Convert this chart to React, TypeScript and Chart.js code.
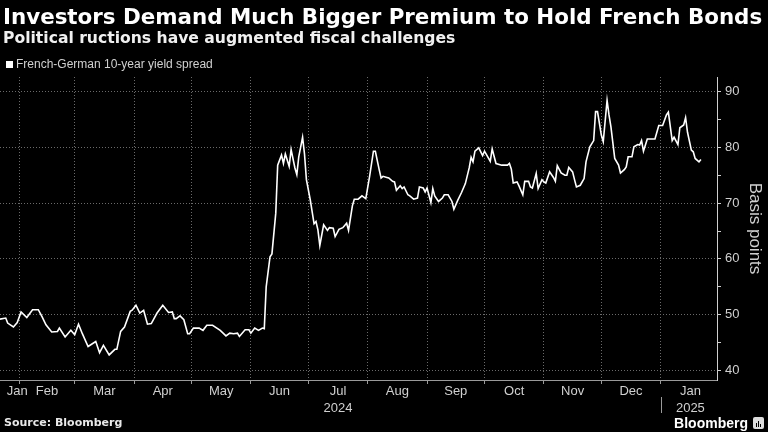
import React, { useEffect, useRef } from "react";
import { Chart, registerables } from "chart.js";

Chart.register(...registerables);

// ---- data ----
const dates: string[] = [
  "2024-01-22","2024-01-25","2024-01-26","2024-01-29","2024-01-31","2024-02-02","2024-02-05","2024-02-08","2024-02-11","2024-02-13",
  "2024-02-15","2024-02-18","2024-02-21","2024-02-22","2024-02-25","2024-02-28","2024-03-01","2024-03-03","2024-03-05","2024-03-08",
  "2024-03-12","2024-03-14","2024-03-16","2024-03-19","2024-03-22","2024-03-23","2024-03-25","2024-03-27","2024-03-30","2024-03-31",
  "2024-04-02","2024-04-04","2024-04-06","2024-04-08","2024-04-10","2024-04-13","2024-04-16","2024-04-19","2024-04-21","2024-04-22",
  "2024-04-23","2024-04-25","2024-04-27","2024-04-29","2024-04-30","2024-05-02","2024-05-05","2024-05-07","2024-05-09","2024-05-12",
  "2024-05-16","2024-05-19","2024-05-21","2024-05-23","2024-05-25","2024-05-26","2024-05-29","2024-05-31","2024-06-01","2024-06-03",
  "2024-06-05","2024-06-07","2024-06-08","2024-06-09","2024-06-11","2024-06-12","2024-06-14","2024-06-15","2024-06-17","2024-06-18",
  "2024-06-19","2024-06-21","2024-06-22","2024-06-24","2024-06-25","2024-06-26","2024-06-28","2024-06-29","2024-06-30","2024-07-02",
  "2024-07-04","2024-07-05","2024-07-06","2024-07-07","2024-07-09","2024-07-11","2024-07-12","2024-07-14","2024-07-15","2024-07-17",
  "2024-07-19","2024-07-21","2024-07-22","2024-07-24","2024-07-25","2024-07-27","2024-07-29","2024-07-31","2024-08-02","2024-08-04",
  "2024-08-05","2024-08-07","2024-08-08","2024-08-09","2024-08-11","2024-08-12","2024-08-14","2024-08-15","2024-08-16","2024-08-18",
  "2024-08-19","2024-08-20","2024-08-22","2024-08-23","2024-08-25","2024-08-27","2024-08-28","2024-08-30","2024-08-31","2024-09-01",
  "2024-09-03","2024-09-04","2024-09-05","2024-09-07","2024-09-09","2024-09-10","2024-09-12","2024-09-14","2024-09-15","2024-09-17",
  "2024-09-19","2024-09-21","2024-09-23","2024-09-24","2024-09-25","2024-09-26","2024-09-28","2024-09-30","2024-10-01","2024-10-04",
  "2024-10-05","2024-10-07","2024-10-10","2024-10-13","2024-10-14","2024-10-15","2024-10-16","2024-10-18","2024-10-19","2024-10-21",
  "2024-10-22","2024-10-24","2024-10-25","2024-10-26","2024-10-28","2024-10-29","2024-10-31","2024-11-01","2024-11-02","2024-11-04",
  "2024-11-06","2024-11-07","2024-11-08","2024-11-10","2024-11-12","2024-11-13","2024-11-14","2024-11-16","2024-11-17","2024-11-18",
  "2024-11-20","2024-11-22","2024-11-23","2024-11-25","2024-11-27","2024-11-28","2024-11-29","2024-12-01","2024-12-02","2024-12-04",
  "2024-12-05","2024-12-06","2024-12-08","2024-12-10","2024-12-11","2024-12-13","2024-12-14","2024-12-15","2024-12-17","2024-12-18",
  "2024-12-20","2024-12-21","2024-12-22","2024-12-23","2024-12-25","2024-12-27","2024-12-29","2024-12-31","2025-01-02","2025-01-04",
  "2025-01-05","2025-01-07","2025-01-08","2025-01-10","2025-01-11","2025-01-13","2025-01-14","2025-01-15","2025-01-17","2025-01-18",
  "2025-01-19","2025-01-21","2025-01-22",
];

const spread: number[] = [
  49.2,49.4,48.5,47.8,48.6,50.5,49.5,50.9,50.9,49.6,
  48.2,46.9,47.0,47.6,46.0,47.2,46.4,48.3,46.6,44.3,
  45.2,43.2,44.5,42.8,43.8,43.8,47.0,47.8,50.6,50.8,
  51.7,50.3,50.8,48.3,48.4,50.3,51.7,50.4,50.5,49.3,
  49.3,49.8,49.1,46.6,46.6,47.6,47.6,47.2,48.1,48.1,
  47.2,46.2,46.7,46.6,46.7,46.1,47.3,47.3,46.7,47.6,
  47.2,47.6,47.5,55.0,60.4,60.9,68.2,76.8,78.6,77.1,
  78.8,76.6,79.6,76.3,75.1,78.3,81.8,78.8,74.2,70.6,
  66.3,66.7,65.2,62.4,66.1,65.1,65.6,65.5,64.0,65.3,
  65.6,66.4,65.1,69.5,70.7,70.7,71.3,70.8,74.8,79.3,
  79.3,76.0,74.5,74.8,74.6,74.5,73.9,73.8,72.3,73.1,
  72.6,72.9,71.5,71.3,70.7,70.9,72.9,72.7,72.0,72.7,
  70.1,72.6,71.3,70.3,70.9,71.5,71.5,70.3,68.9,70.5,
  71.9,73.5,76.3,78.2,77.4,79.3,79.9,78.5,79.3,77.5,
  79.7,77.1,76.8,76.8,77.1,76.1,73.6,73.8,73.1,71.5,
  73.9,73.9,72.9,72.7,75.3,72.6,74.2,73.8,73.6,75.6,
  74.6,73.9,76.7,75.4,75.0,75.0,76.4,75.6,74.2,72.9,
  73.2,74.4,77.4,80.1,81.2,86.4,86.4,82.2,81.0,88.4,
  85.8,83.7,78.0,76.8,75.4,76.0,76.5,78.3,78.3,80.1,
  80.5,80.4,81.2,79.3,81.5,81.5,81.5,83.9,83.9,85.8,
  86.3,81.2,81.8,80.5,83.5,84.0,85.3,82.7,79.5,79.2,
  78.0,77.4,77.8,
];

const monthStarts: string[] = [
  "2024-01-01","2024-02-01","2024-03-01","2024-04-01","2024-05-01","2024-06-01","2024-07-01",
  "2024-08-01","2024-09-01","2024-10-01","2024-11-01","2024-12-01","2025-01-01","2025-02-01",
];
const monthLabels: string[][] = [
  ["Jan"],["Feb"],["Mar"],["Apr"],["May"],["Jun"],["Jul","2024"],
  ["Aug"],["Sep"],["Oct"],["Nov"],["Dec"],["Jan","2025"],
];
const yLabelTicks: number[] = [40, 50, 60, 70, 80, 90];
const yMinorTicks: number[] = [45, 55, 65, 75, 85];
const yearBreak = "2025-01-01";
const seriesName = "French-German 10-year yield spread";

// axis window (days since 2024-01-01)
const X_MIN_DATE = dates[0];
const X_MAX_EXTRA_DAYS = 8.4; // blank space after the last point
const Y_MIN = 38.3;
const Y_MAX = 92.6;

function dayNum(s: string): number {
  const [y, m, d] = s.split("-").map(Number);
  return (Date.UTC(y, m - 1, d) - Date.UTC(2024, 0, 1)) / 86400000;
}

const FONT = "'Liberation Sans', Arial, sans-serif";
const HEAD_FONT = "'DejaVu Sans', sans-serif";
const GRID = "#6a6a6a";
const TEXT = "#d0d0d0";

export default function App() {
  const ref = useRef<HTMLCanvasElement | null>(null);

  useEffect(() => {
    if (!ref.current) return;
    const xMin = dayNum(X_MIN_DATE);
    const xMax = dayNum(dates[dates.length - 1]) + X_MAX_EXTRA_DAYS;
    const gridTicks = monthStarts.slice(1, 13).map(dayNum);
    const labelTicks = monthLabels.map((_, i) => {
      const a = dayNum(monthStarts[i]);
      const b = dayNum(monthStarts[i + 1]);
      const mid = (a + b) / 2;
      return Math.min(Math.max(mid, xMin + 9), xMax - 9);
    });
    const points = dates.map((d, i) => ({ x: dayNum(d), y: spread[i] }));

    const yearSep = {
      id: "yearSep",
      afterDraw(chart: any) {
        const sx = chart.scales.x;
        const px = Math.round(sx.getPixelForValue(dayNum(yearBreak))) + 0.5;
        const b = chart.chartArea.bottom;
        const ctx = chart.ctx;
        ctx.save();
        ctx.strokeStyle = "#9a9a9a";
        ctx.lineWidth = 1;
        ctx.beginPath();
        ctx.moveTo(px, b + 17);
        ctx.lineTo(px, b + 33);
        ctx.stroke();
        ctx.restore();
      },
    };

    const chart = new Chart(ref.current, {
      type: "line",
      data: {
        datasets: [
          {
            label: seriesName,
            data: points,
            borderColor: "#ffffff",
            borderWidth: 1.6,
            pointRadius: 0,
            tension: 0,
            xAxisID: "x",
            yAxisID: "y",
          },
        ],
      },
      options: {
        animation: false,
        responsive: false,
        maintainAspectRatio: false,
        layout: { padding: { top: 77, left: 0, right: 0, bottom: 0 } },
        plugins: { legend: { display: false }, tooltip: { enabled: false }, title: { display: false } },
        scales: {
          x: {
            type: "linear",
            position: "bottom",
            weight: 0,
            min: xMin,
            max: xMax,
            afterBuildTicks: (s: any) => {
              s.ticks = gridTicks.map((v) => ({ value: v }));
            },
            afterFit: (s: any) => {
              s.height = 4;
            },
            ticks: { display: false },
            grid: { color: GRID, lineWidth: 1, drawTicks: true, tickLength: 4, tickColor: "#9a9a9a" },
            border: { display: true, color: "#9a9a9a", width: 1, dash: [1, 2] },
          },
          x2: {
            type: "linear",
            axis: "x",
            position: "bottom",
            weight: 1,
            min: xMin,
            max: xMax,
            afterBuildTicks: (s: any) => {
              s.ticks = labelTicks.map((v) => ({ value: v }));
            },
            afterFit: (s: any) => {
              s.height = 48;
            },
            grid: { display: false, drawTicks: false },
            border: { display: false },
            ticks: {
              autoSkip: false,
              maxRotation: 0,
              minRotation: 0,
              padding: -1,
              color: TEXT,
              font: { family: FONT, size: 13, lineHeight: 1.3 },
              callback: (_v: any, i: number) => monthLabels[i],
            },
          },
          y: {
            type: "linear",
            position: "right",
            min: Y_MIN,
            max: Y_MAX,
            afterBuildTicks: (s: any) => {
              s.ticks = [...yLabelTicks, ...yMinorTicks].sort((a, b) => a - b).map((v) => ({ value: v }));
            },
            afterFit: (s: any) => {
              s.width = 51;
            },
            ticks: {
              color: TEXT,
              padding: 4,
              font: { family: FONT, size: 13 },
              callback: (v: any) => (yLabelTicks.includes(Number(v)) ? String(v) : ""),
            },
            grid: {
              color: (c: any) => (c.tick && yLabelTicks.includes(c.tick.value) ? GRID : "rgba(0,0,0,0)"),
              lineWidth: 1,
              drawTicks: true,
              tickLength: 4,
              tickColor: "#cfcfcf",
            },
            border: { display: true, color: "#cfcfcf", width: 1, dash: [1, 2] },
            title: {
              display: true,
              text: "Basis points",
              color: TEXT,
              font: { family: FONT, size: 17 },
              padding: { top: 3, bottom: 3 },
            },
          },
        },
      },
      plugins: [yearSep],
    } as any);

    return () => chart.destroy();
  }, []);

  return (
    <div style={{ position: "fixed", left: 0, top: 0, width: 768, height: 432, background: "#000", overflow: "hidden" }}>
      <canvas ref={ref} width={768} height={432} style={{ position: "absolute", left: 0, top: 0, width: 768, height: 432 }} />
      <div style={{ position: "absolute", left: 3, top: 6, font: `bold 21.4px ${HEAD_FONT}`, lineHeight: "21px", color: "#fff", whiteSpace: "nowrap" }}>
        Investors Demand Much Bigger Premium to Hold French Bonds
      </div>
      <div style={{ position: "absolute", left: 3, top: 30, font: `bold 15.6px ${HEAD_FONT}`, lineHeight: "16px", color: "#f0f0f0", whiteSpace: "nowrap" }}>
        Political ructions have augmented fiscal challenges
      </div>
      <div style={{ position: "absolute", left: 6, top: 57, display: "flex", alignItems: "center", whiteSpace: "nowrap" }}>
        <span style={{ display: "inline-block", width: 7, height: 7, background: "#fff", marginRight: 3 }} />
        <span style={{ font: `12px ${FONT}`, color: TEXT, lineHeight: "14px" }}>{seriesName}</span>
      </div>
      <div style={{ position: "absolute", left: 4, top: 416, font: `bold 11px ${HEAD_FONT}`, lineHeight: "14px", color: "#e8e8e8", whiteSpace: "nowrap" }}>
        Source: Bloomberg
      </div>
      <div style={{ position: "absolute", right: 4, top: 414, display: "flex", alignItems: "center", whiteSpace: "nowrap" }}>
        <span style={{ font: `bold 14px ${FONT}`, lineHeight: "18px", color: "#fff" }}>Bloomberg</span>
        <span style={{ position: "relative", display: "inline-block", width: 11, height: 12, background: "#ddd", borderRadius: 2, marginLeft: 5 }}>
          <span style={{ position: "absolute", left: 3, bottom: 2, width: 1, height: 4, background: "#000" }} />
          <span style={{ position: "absolute", left: 5, bottom: 2, width: 1, height: 6, background: "#000" }} />
          <span style={{ position: "absolute", left: 7, bottom: 2, width: 1, height: 3, background: "#000" }} />
        </span>
      </div>
    </div>
  );
}
